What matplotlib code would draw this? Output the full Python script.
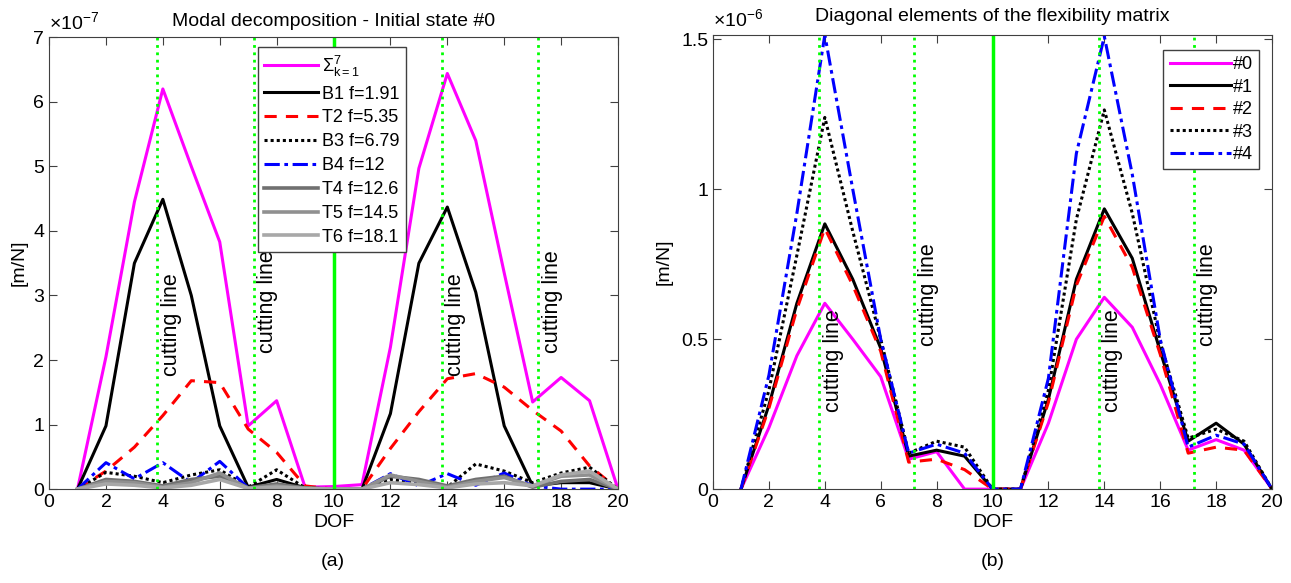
import numpy as np
import matplotlib
matplotlib.use("Agg")
import matplotlib.pyplot as plt

plt.rcParams['font.family'] = ['Liberation Sans', 'DejaVu Sans']
plt.rcParams['mathtext.fontset'] = 'custom'
plt.rcParams['mathtext.rm'] = 'Liberation Sans'
plt.rcParams['mathtext.it'] = 'Liberation Sans'

dof = np.arange(1, 21)

# left panel, values in 1e-7 m/N
sum7 = [0, 2.05, 4.45, 6.2, 5.0, 3.83, 0.98, 1.37, 0.03, 0.04,
        0.07, 2.2, 4.97, 6.44, 5.4, 3.35, 1.35, 1.73, 1.37, 0]
b1 = [0, 0.98, 3.5, 4.49, 3.0, 0.98, 0.03, 0.15, 0.02, 0,
      0, 1.17, 3.5, 4.37, 3.05, 0.98, 0.05, 0.1, 0.1, 0]
t2 = [0, 0.28, 0.65, 1.14, 1.68, 1.65, 0.93, 0.57, 0.05, 0,
      0, 0.63, 1.2, 1.71, 1.79, 1.58, 1.22, 0.9, 0.36, 0]
b3 = [0, 0.26, 0.2, 0.1, 0.22, 0.3, 0.03, 0.3, 0.02, 0,
      0, 0.15, 0.08, 0.03, 0.39, 0.28, 0.1, 0.25, 0.34, 0]
b4 = [0, 0.41, 0.16, 0.41, 0.1, 0.43, 0.02, 0.0, 0.0, 0,
      0, 0.24, 0.05, 0.24, 0.06, 0.25, 0.05, 0.0, 0.0, 0]
t4 = [0, 0.15, 0.12, 0.05, 0.15, 0.2, 0.02, 0.08, 0.02, 0,
      0, 0.2, 0.15, 0.05, 0.15, 0.2, 0.03, 0.12, 0.15, 0]
t5 = [0, 0.12, 0.1, 0.03, 0.1, 0.25, 0.01, 0.05, 0.01, 0,
      0, 0.22, 0.12, 0.03, 0.12, 0.18, 0.05, 0.2, 0.22, 0]
t6 = [0, 0.08, 0.06, 0.02, 0.06, 0.15, 0.01, 0.03, 0.01, 0,
      0, 0.1, 0.07, 0.02, 0.08, 0.1, 0.05, 0.22, 0.28, 0]
modes = ['$\\Sigma_{k=1}^{7}$', 'B1 f=1.91', 'T2 f=5.35', 'B3 f=6.79', 'B4 f=12',
         'T4 f=12.6', 'T5 f=14.5', 'T6 f=18.1']

# right panel, values in 1e-6 m/N
s0 = [0, 0.205, 0.445, 0.62, 0.5, 0.375, 0.1, 0.125, 0.0, 0.0,
      0.0, 0.22, 0.5, 0.64, 0.54, 0.35, 0.13, 0.165, 0.13, 0]
s1 = [0, 0.28, 0.62, 0.885, 0.7, 0.47, 0.11, 0.13, 0.11, 0.0,
      0.0, 0.3, 0.7, 0.935, 0.77, 0.46, 0.16, 0.22, 0.15, 0]
s2 = [0, 0.27, 0.6, 0.87, 0.68, 0.46, 0.09, 0.1, 0.065, 0.0,
      0.0, 0.29, 0.68, 0.91, 0.74, 0.45, 0.12, 0.14, 0.13, 0]
s3 = [0, 0.33, 0.78, 1.24, 0.86, 0.5, 0.12, 0.16, 0.14, 0.0,
      0.0, 0.33, 0.9, 1.265, 0.92, 0.49, 0.17, 0.2, 0.16, 0]
s4 = [0, 0.38, 0.92, 1.515, 1.0, 0.5, 0.12, 0.15, 0.12, 0.0,
      0.0, 0.37, 1.12, 1.51, 1.05, 0.5, 0.14, 0.18, 0.15, 0]
states = ['#0', '#1', '#2', '#3', '#4']

cut_lines = [3.8, 7.2, 13.8, 17.2]
green = (0, 1, 0)

fig = plt.figure(figsize=(12.91, 5.83), dpi=100)
ax1 = fig.add_axes([0.038, 0.161, 0.4407, 0.775])
ax2 = fig.add_axes([0.5523, 0.161, 0.433, 0.779])


def style(ax):
    ax.tick_params(direction='in', top=True, right=True, labelsize=14,
                   length=6, color='#404040')
    for sp in ax.spines.values():
        sp.set_color('#404040')


# left panel
ax1.plot(dof, sum7, color='magenta', lw=2.2, label=modes[0])
ax1.plot(dof, b1, color='black', lw=2.2, label=modes[1])
ax1.plot(dof, t2, color='red', lw=2.2, ls=(0, (4, 3)), label=modes[2])
ax1.plot(dof, b3, color='black', lw=2.2, ls=(0, (1, 1)), label=modes[3])
ax1.plot(dof, b4, color='blue', lw=2.2, ls=(0, (5, 1.5, 1.2, 1.5)), label=modes[4])
ax1.plot(dof, t4, color='#707070', lw=2.6, label=modes[5])
ax1.plot(dof, t5, color='#909090', lw=2.6, label=modes[6])
ax1.plot(dof, t6, color='#a8a8a8', lw=2.6, label=modes[7])
for c in cut_lines:
    ax1.axvline(c, color=green, ls=':', lw=2)
ax1.axvline(10, color=green, lw=2.5)
ax1.set_xlim(0, 20)
ax1.set_ylim(0, 7)
ax1.set_xticks(range(0, 21, 2))
ax1.set_yticks(range(0, 8))
ax1.set_xlabel('DOF', fontsize=14, labelpad=2)
ax1.set_ylabel('[m/N]', fontsize=14, labelpad=4)
ax1.set_title('Modal decomposition - Initial state #0', fontsize=14, pad=8)
ax1.text(0.0, 1.01, '×10$^{-7}$', transform=ax1.transAxes, fontsize=14,
         ha='left', va='bottom')
for c, yc in zip(cut_lines, [2.55, 2.9, 2.55, 2.9]):
    ax1.text(c + 0.12, yc, 'cutting line', rotation=90, fontsize=15.5,
             ha='left', va='center')
leg = ax1.legend(loc='upper left', bbox_to_anchor=(0.367, 0.978), fontsize=13,
                 handlelength=3.0, handletextpad=0.2, labelspacing=0.38,
                 borderpad=0.35, borderaxespad=0, fancybox=False, framealpha=1,
                 edgecolor='#404040')
leg.get_frame().set_linewidth(1)
style(ax1)

# right panel
ax2.plot(dof, s0, color='magenta', lw=2.2, label=states[0])
ax2.plot(dof, s1, color='black', lw=2.2, label=states[1])
ax2.plot(dof, s2, color='red', lw=2.2, ls=(0, (4, 3)), label=states[2])
ax2.plot(dof, s3, color='black', lw=2.2, ls=(0, (1, 1)), label=states[3])
ax2.plot(dof, s4, color='blue', lw=2.2, ls=(0, (5, 1.5, 1.2, 1.5)), label=states[4])
for c in cut_lines:
    ax2.axvline(c, color=green, ls=':', lw=2)
ax2.axvline(10, color=green, lw=2.5)
ax2.set_xlim(0, 20)
ax2.set_ylim(0, 1.515)
ax2.set_xticks(range(0, 21, 2))
ax2.set_yticks([0, 0.5, 1, 1.5])
ax2.set_yticklabels(['0', '0.5', '1', '1.5'])
ax2.set_xlabel('DOF', fontsize=14, labelpad=2)
ax2.set_ylabel('[m/N]', fontsize=14, labelpad=6)
ax2.set_title('Diagonal elements of the flexibility matrix', fontsize=14, pad=10)
ax2.text(0.0, 1.01, '×10$^{-6}$', transform=ax2.transAxes, fontsize=14,
         ha='left', va='bottom')
for c, yc in zip(cut_lines, [0.43, 0.65, 0.43, 0.65]):
    ax2.text(c + 0.12, yc, 'cutting line', rotation=90, fontsize=15.5,
             ha='left', va='center')
leg2 = ax2.legend(loc='upper right', bbox_to_anchor=(0.977, 0.967), fontsize=13,
                  handlelength=3.4, handletextpad=0.1, labelspacing=0.3,
                  borderpad=0.35, borderaxespad=0, fancybox=False, framealpha=1,
                  edgecolor='#404040')
leg2.get_frame().set_linewidth(1)
style(ax2)

fig.text(0.258, 0.03, '(a)', fontsize=14, ha='center')
fig.text(0.769, 0.03, '(b)', fontsize=14, ha='center')

fig.savefig('out.png', dpi=100)
